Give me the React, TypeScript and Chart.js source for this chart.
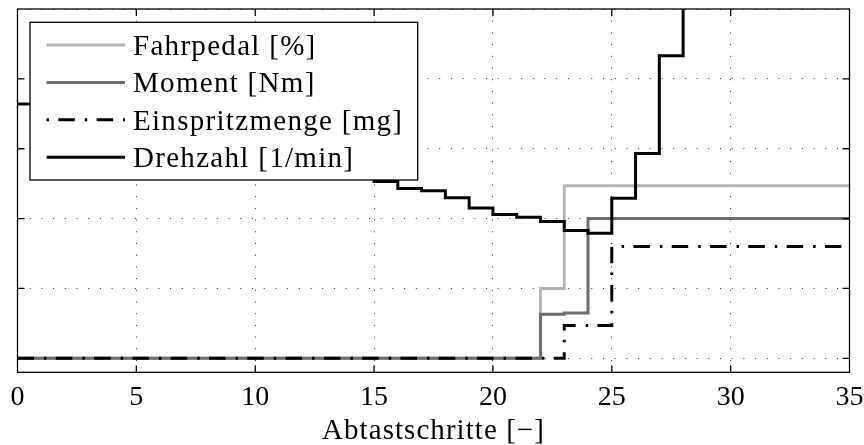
import React, { useEffect, useRef } from 'react';
import { Chart, registerables } from 'chart.js';

Chart.register(...registerables);

// sample index (x axis)
const steps = [
  0, 1, 2, 3, 4, 5, 6, 7, 8, 9, 10, 11, 12, 13, 14, 15, 16, 17,
  18, 19, 20, 21, 22, 23, 24, 25, 26, 27, 28, 29, 30, 31, 32, 33, 34, 35,
];
const xTickValues = [0, 5, 10, 15, 20, 25, 30, 35];
const yGridValues = [0, 1, 2, 3, 4, 5];

const seriesLabels = ['Fahrpedal [%]', 'Moment [Nm]', 'Einspritzmenge [mg]', 'Drehzahl [1/min]'];
const xTitle = 'Abtastschritte [−]';

const fahrpedal = [
  0, 0, 0, 0, 0, 0, 0, 0, 0, 0, 0, 0, 0, 0, 0, 0, 0, 0,
  0, 0, 0, 0, 1.0, 2.47, 2.47, 2.47, 2.47, 2.47, 2.47, 2.47, 2.47, 2.47, 2.47, 2.47, 2.47, 2.47,
];
const moment = [
  0, 0, 0, 0, 0, 0, 0, 0, 0, 0, 0, 0, 0, 0, 0, 0, 0, 0,
  0, 0, 0, 0, 0.63, 0.65, 2.0, 2.0, 2.0, 2.0, 2.0, 2.0, 2.0, 2.0, 2.0, 2.0, 2.0, 2.0,
];
const einspritzmenge = [
  0, 0, 0, 0, 0, 0, 0, 0, 0, 0, 0, 0, 0, 0, 0, 0, 0, 0,
  0, 0, 0, 0, 0, 0.47, 0.47, 1.6, 1.6, 1.6, 1.6, 1.6, 1.6, 1.6, 1.6, 1.6, 1.6, 1.6,
];
// values 1..14 are hidden behind the legend in the reference
const drehzahl: (number | null)[] = [
  3.64, null, null, null, null, null, null, null, null, null, null, null, null, null, null,
  2.53, 2.43, 2.4, 2.3, 2.15, 2.06, 2.02, 1.96, 1.83, 1.79, 2.29, 2.93, 4.33, 5.8,
];

const SERIF = "'Liberation Serif', 'Times New Roman', serif";

export default function App() {
  const ref = useRef<HTMLCanvasElement>(null);

  useEffect(() => {
    const canvas = ref.current;
    if (!canvas) return;
    const toPts = (arr: (number | null)[]) => arr.map((y, i) => ({ x: steps[i], y }));

    const framePlugin = {
      id: 'framePlugin',
      afterDatasetsDraw(chart: any) {
        const { ctx, chartArea: a } = chart;
        // legend box
        const bx = a.left + 12.5;
        const by = a.top + 13.3;
        const bw = 387.7;
        const bh = 157.7;
        ctx.save();
        ctx.fillStyle = '#fff';
        ctx.fillRect(bx, by, bw, bh);
        ctx.strokeStyle = '#000';
        ctx.lineWidth = 1.3;
        ctx.strokeRect(bx, by, bw, bh);
        const ds = chart.data.datasets;
        for (let i = 0; i < ds.length; i++) {
          const rowY = by + 22.7 + i * 37.4;
          ctx.beginPath();
          ctx.lineWidth = ds[i].borderWidth;
          ctx.strokeStyle = ds[i].borderColor;
          ctx.setLineDash(ds[i].borderDash || []);
          ctx.lineDashOffset = ds[i].borderDash ? 26.5 : 0;
          ctx.lineCap = 'butt';
          ctx.moveTo(bx + 16.5, rowY);
          ctx.lineTo(bx + 95, rowY);
          ctx.stroke();
          ctx.setLineDash([]);
          ctx.fillStyle = '#000';
          ctx.font = `29px ${SERIF}`;
          (ctx as any).letterSpacing = '1.3px';
          ctx.textAlign = 'left';
          ctx.textBaseline = 'alphabetic';
          ctx.fillText(ds[i].label, bx + 103, rowY + 10);
          (ctx as any).letterSpacing = '0px';
        }
        ctx.restore();
      },
      afterDraw(chart: any) {
        const { ctx, chartArea: a, scales } = chart;
        ctx.save();
        ctx.strokeStyle = '#000';
        ctx.lineWidth = 1.3;
        ctx.setLineDash([]);
        ctx.strokeRect(a.left, a.top, a.right - a.left, a.bottom - a.top);
        const tl = 7;
        ctx.beginPath();
        for (const v of xTickValues) {
          if (v === xTickValues[0] || v === xTickValues[xTickValues.length - 1]) continue;
          const px = scales.x.getPixelForValue(v);
          ctx.moveTo(px, a.bottom);
          ctx.lineTo(px, a.bottom - tl);
          ctx.moveTo(px, a.top);
          ctx.lineTo(px, a.top + tl);
        }
        for (const v of yGridValues) {
          const py = scales.y.getPixelForValue(v);
          if (Math.abs(py - a.top) < 1) continue;
          ctx.moveTo(a.left, py);
          ctx.lineTo(a.left + tl, py);
          ctx.moveTo(a.right, py);
          ctx.lineTo(a.right - tl, py);
        }
        ctx.stroke();
        // axis title
        ctx.fillStyle = '#000';
        ctx.font = `29px ${SERIF}`;
        (ctx as any).letterSpacing = '1.05px';
        ctx.textAlign = 'center';
        ctx.textBaseline = 'alphabetic';
        ctx.fillText(xTitle, (a.left + a.right) / 2, a.bottom + 66.7);
        (ctx as any).letterSpacing = '0px';
        ctx.restore();
      },
    };

    const common = {
      pointRadius: 0,
      pointHoverRadius: 0,
      fill: false,
      stepped: true,
      borderWidth: 3,
      clip: 0,
      spanGaps: true,
      borderCapStyle: 'butt' as const,
      borderJoinStyle: 'miter' as const,
    };

    const chart = new Chart(canvas, {
      type: 'line',
      data: {
        datasets: [
          { ...common, label: seriesLabels[0], data: toPts(fahrpedal), borderColor: '#b4b4b4', order: 3 },
          { ...common, label: seriesLabels[1], data: toPts(moment), borderColor: '#6e6e6e', order: 2 },
          {
            ...common,
            label: seriesLabels[2],
            data: toPts(einspritzmenge),
            borderColor: '#000',
            borderDash: [16.5, 10, 2.5, 9.3],
            order: 1,
          },
          { ...common, label: seriesLabels[3], data: toPts(drehzahl), borderColor: '#000', order: 0 },
        ],
      },
      options: {
        responsive: false,
        animation: false,
        devicePixelRatio: 1,
        events: [],
        layout: { padding: { left: 17.5, right: 14.5, top: 9, bottom: 0 } },
        plugins: { legend: { display: false }, tooltip: { enabled: false }, title: { display: false } },
        scales: {
          x: {
            type: 'linear',
            min: 0,
            max: 35,
            afterBuildTicks: (s: any) => {
              s.ticks = xTickValues.map((v) => ({ value: v }));
            },
            afterFit: (s: any) => {
              s.height = 72.7;
            },
            ticks: {
              color: '#000',
              font: { family: SERIF, size: 28, lineHeight: 1.8 },
              padding: 0,
              maxRotation: 0,
              autoSkip: false,
            },
            grid: { color: '#333', lineWidth: 1, drawTicks: false },
            border: { display: false, dash: [1, 10.7] },
          },
          y: {
            type: 'linear',
            min: -0.2,
            max: 5,
            afterBuildTicks: (s: any) => {
              s.ticks = yGridValues.map((v) => ({ value: v }));
            },
            afterFit: (s: any) => {
              s.width = 0;
            },
            ticks: { display: false },
            grid: { color: '#333', lineWidth: 1, drawTicks: false },
            border: { display: false, dash: [1, 10.7] },
          },
        },
      },
      plugins: [framePlugin],
    } as any);

    return () => chart.destroy();
  }, []);

  return (
    <div style={{ position: 'fixed', left: 0, top: 0, width: 864, height: 445, background: '#fff' }}>
      <canvas ref={ref} width={864} height={445} style={{ display: 'block', width: 864, height: 445 }} />
    </div>
  );
}
